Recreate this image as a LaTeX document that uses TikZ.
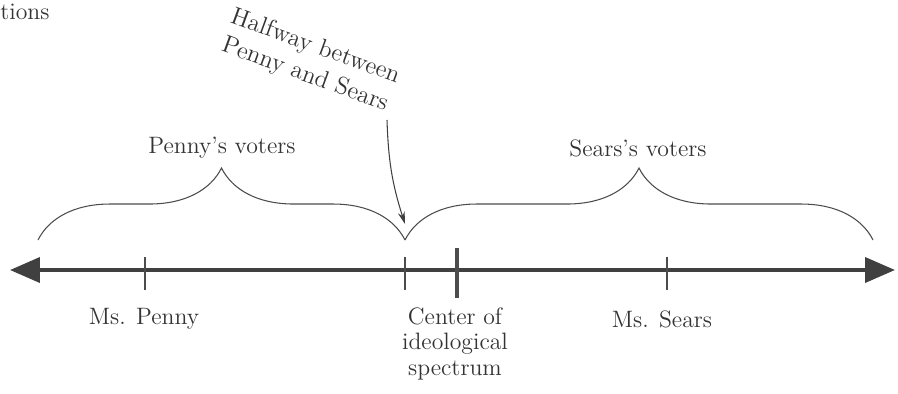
\documentclass[tikz,border=0pt]{standalone}
\usepackage{tikz}
\usetikzlibrary{arrows.meta,decorations.pathreplacing}

\begin{document}
\begin{tikzpicture}[x=0.02cm,y=-0.02cm,
  txt/.style={font=\fontsize{13.5}{14.5}\selectfont, text=black!80, align=center, inner sep=0pt},
  tick/.style={line width=0.9pt, draw=black!70},
  curly/.style={decorate, decoration={brace, amplitude=1.44cm}, line width=0.6pt, draw=black!70}]
  \useasboundingbox (0,0) rectangle (898,393);
  % axis
  \coordinate (left) at (10,270);
  \coordinate (right) at (895,270);
  \draw[line width=2.2pt, black!75, {Triangle[length=0.6cm,width=0.5cm]}-{Triangle[length=0.6cm,width=0.5cm]}] (left) -- (right);
  \coordinate (penny) at (145,270);
  \coordinate (half) at (405,270);
  \coordinate (center) at (457,270);
  \coordinate (sears) at (667,270);
  \foreach \c in {penny,half,sears}
    \draw[tick] (\c) ++(0,-13) -- ++(0,33);
  \draw[tick, line width=1.8pt] (center) ++(0,-22) -- ++(0,50);
  % labels below
  \node[txt] (pennylab) at (144,319) {Ms. Penny};
  \node[txt, anchor=north] (centerlab) at (455,307) {Center of\\ideological\\spectrum};
  \node[txt] (searslab) at (662,319) {Ms. Sears};
  % braces
  \coordinate (bl) at (38,240);
  \coordinate (bm) at (405,240);
  \coordinate (br) at (873,240);
  \draw[curly] (bl) -- (bm);
  \draw[curly] (bm) -- (br);
  \node[txt] (pennyvoters) at (222,148) {Penny's voters};
  \node[txt] (searsvoters) at (638,148) {Sears's voters};
  % halfway
  \node[txt, font=\fontsize{14}{17}\selectfont, rotate=-20] (halfway) at (310,61) {Halfway between\\Penny and Sears};
  \coordinate (tip) at (405,224);
  \draw[line width=0.6pt, black!75, -{Stealth[length=7pt,width=4pt]}] (387,120) to[bend right=8] (tip);
  % page fragment
  \node[txt, anchor=west] (frag) at (0,12) {tions};
\end{tikzpicture}
\end{document}
